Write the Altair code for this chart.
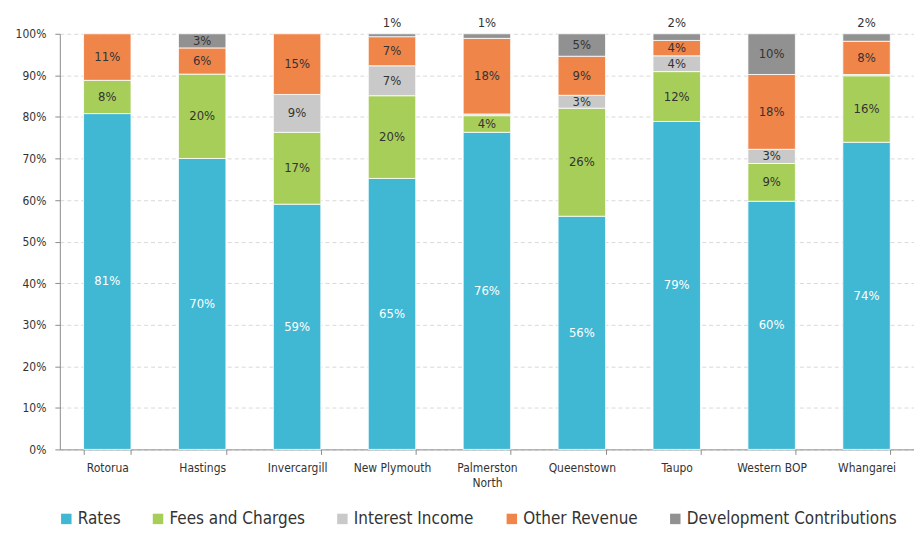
import altair as alt
import pandas as pd

cities = ["Rotorua", "Hastings", "Invercargill", "New Plymouth", "Palmerston North",
          "Queenstown", "Taupo", "Western BOP", "Whangarei"]
series = ["Rates", "Fees and Charges", "Interest Income", "Other Revenue", "Development Contributions"]
colors = ["#40B8D3", "#A8CE5A", "#C9C9C9", "#F0854A", "#919191"]

rates = [80.8, 70.0, 59.0, 65.2, 76.3, 56.1, 78.9, 59.7, 73.9]
fees = [8.0, 20.3, 17.3, 19.9, 4.0, 26.0, 12.0, 9.1, 16.0]
interest = [0.0, 0.0, 9.1, 7.2, 0.4, 3.1, 3.8, 3.4, 0.3]
other = [11.2, 6.3, 14.6, 7.0, 18.2, 9.4, 3.7, 18.0, 8.0]
dev = [0.0, 3.4, 0.0, 0.7, 1.1, 5.4, 1.6, 9.8, 1.8]

rows = []
for i, c in enumerate(cities):
    start = 0.0
    for j, (s, vals) in enumerate(zip(series, [rates, fees, interest, other, dev])):
        v = vals[i] / 100
        rows.append(dict(city=c, series=s, order=j, value=v, start=start,
                         end=start + v, mid=start + v / 2))
        start += v
df = pd.DataFrame(rows)

FONT = "DejaVu Sans Condensed, Lato, sans-serif"

x = alt.X("city:N", sort=cities,
          scale=alt.Scale(paddingInner=0.5, paddingOuter=0.25),
          axis=alt.Axis(title=None, labelAngle=0, tickBand="extent",
                        labelExpr="datum.label == 'Palmerston North' ? ['Palmerston','North'] : datum.label",
                        labelPadding=8, domainColor="#8c8c8c", tickColor="#8c8c8c", tickSize=5,
                        labelFontSize=12, labelColor="#333333", labelFont=FONT, grid=False,
                        labelLineHeight=15))

yscale = alt.Scale(domain=[0, 1], nice=False)

base = alt.Chart(df).transform_filter("datum.value > 0")

bars = base.mark_bar(stroke="white", strokeWidth=0.8).encode(
    x=x,
    y=alt.Y("start:Q", scale=yscale,
            axis=alt.Axis(title=None, format=".0%", values=[i / 10 for i in range(11)],
                          grid=True, gridDash=[4, 3], gridColor="#d9d9d9",
                          domainColor="#8c8c8c", tickColor="#8c8c8c", tickSize=5,
                          labelPadding=9, labelFontSize=12, labelColor="#333333",
                          labelFont=FONT)),
    y2="end:Q",
    color=alt.Color("series:N", scale=alt.Scale(domain=series, range=colors),
                    legend=alt.Legend(title=None, orient="none", direction="horizontal",
                                      legendX=-2, legendY=478, symbolType="square",
                                      symbolSize=110, symbolStrokeWidth=0,
                                      labelFontSize=17, labelFont=FONT, labelColor="#333333",
                                      labelLimit=400,
                                      columnPadding=29, labelOffset=3, padding=0)),
    order=alt.Order("order:Q"),
)

labels = base.transform_filter("datum.value >= 0.025").mark_text(
    fontSize=13, font=FONT, baseline="middle").encode(
    x=x,
    y=alt.Y("mid:Q", scale=yscale),
    text=alt.Text("value:Q", format=".0%"),
    color=alt.condition("datum.series == 'Rates'", alt.value("white"), alt.value("#333333")),
)

top_labels = base.transform_filter(
    "datum.series == 'Development Contributions' && datum.value > 0.005 && datum.value < 0.025"
).mark_text(fontSize=13, font=FONT, baseline="middle", dy=-11, color="#333333").encode(
    x=x,
    y=alt.Y("end:Q", scale=yscale),
    text=alt.Text("value:Q", format=".0%"),
)

chart = alt.layer(bars, labels, top_labels).properties(
    width=857, height=417,
    autosize=alt.AutoSizeParams(type="none"),
    padding={"left": 52, "top": 25, "right": 0, "bottom": 82},
).configure_view(stroke=None)

chart.save("out.html", embed_options={"renderer": "svg", "actions": False})
